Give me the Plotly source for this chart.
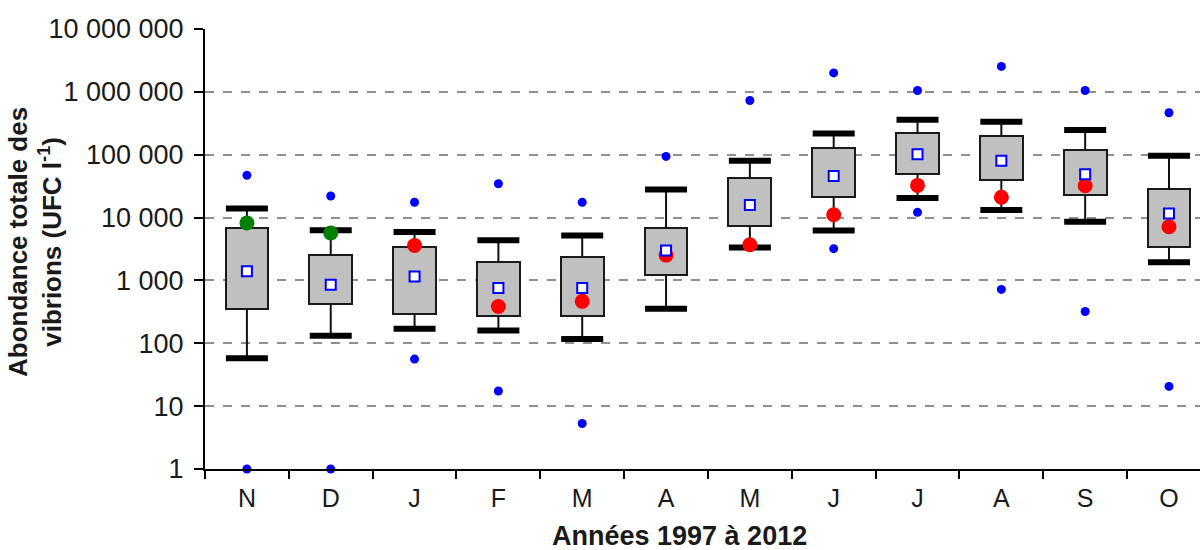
import plotly.graph_objects as go

months = ["N", "D", "J", "F", "M", "A", "M", "J", "J", "A", "S", "O"]
max_vals = [47000, 22000, 17500, 34500, 17500, 94000, 730000, 2000000, 1050000, 2540000, 1050000, 465000]
upper_whisker = [14000, 6300, 5900, 4350, 5200, 28000, 80000, 218000, 360000, 335000, 247000, 96000]
q3_vals = [6800, 2500, 3450, 1960, 2400, 6800, 42000, 129000, 225000, 198000, 119000, 28500]
mean_vals = [1400, 850, 1160, 760, 760, 3000, 15800, 46000, 102000, 80000, 48700, 11600]
q1_vals = [350, 420, 292, 270, 270, 1200, 7250, 21000, 50000, 39000, 22500, 3440]
lower_whisker = [58, 132, 170, 160, 117, 355, 3350, 6250, 20500, 13200, 8600, 1940]
min_vals = [1, 1, 56, 17.4, 5.3, None, None, 3200, 12100, 720, 320, 20.6]
current_vals = [8200, 5700, 3600, 385, 465, 2530, 3700, 11100, 32500, 21000, 32000, 7150]
current_colors = ["#008000", "#008000"] + ["#ff0000"] * 10

y_tickvals = [1, 10, 100, 1000, 10000, 100000, 1000000, 10000000]
y_ticktext = ["1", "10", "100", "1 000", "10 000", "100 000", "1 000 000", "10 000 000"]

FONT = "Liberation Sans, Arial, sans-serif"
xs = list(range(len(months)))

fig = go.Figure()

# boxes (q1 -> q3)
fig.add_trace(go.Bar(
    x=xs, y=[q3 - q1 for q1, q3 in zip(q1_vals, q3_vals)], base=q1_vals,
    width=0.51, marker=dict(color="#c0c0c0", line=dict(color="#1a1a1a", width=2)),
    showlegend=False, hoverinfo="skip"))

# whisker lines
wx, wy = [], []
for i in xs:
    wx += [i, i, None, i, i, None]
    wy += [lower_whisker[i], q1_vals[i], None, q3_vals[i], upper_whisker[i], None]
fig.add_trace(go.Scatter(x=wx, y=wy, mode="lines", line=dict(color="#111111", width=2),
                         showlegend=False, hoverinfo="skip", cliponaxis=False))

# whisker caps
for vals in (upper_whisker, lower_whisker):
    fig.add_trace(go.Scatter(
        x=xs, y=vals, mode="markers",
        marker=dict(symbol="line-ew-open", size=30, color="#000000",
                    line=dict(color="#000000", width=6)),
        showlegend=False, hoverinfo="skip", cliponaxis=False))

# current year values
fig.add_trace(go.Scatter(
    x=xs, y=current_vals, mode="markers",
    marker=dict(symbol="circle", size=15, color=current_colors, line=dict(width=0)),
    showlegend=False, cliponaxis=False))

# means
fig.add_trace(go.Scatter(
    x=xs, y=mean_vals, mode="markers",
    marker=dict(symbol="square", size=10, color="#ffffff", line=dict(color="#0000ff", width=2)),
    showlegend=False, cliponaxis=False))

# min / max
fig.add_trace(go.Scatter(
    x=xs + xs, y=max_vals + min_vals, mode="markers",
    marker=dict(symbol="circle", size=9, color="#0000ff", line=dict(width=0)),
    showlegend=False, cliponaxis=False))

fig.update_layout(
    width=1200, height=550,
    margin=dict(l=205, r=0, t=29, b=81),
    paper_bgcolor="white", plot_bgcolor="white",
    font=dict(family=FONT, color="#1a1a1a"),
    bargap=0,
    xaxis=dict(
        range=[-0.5, 11.37], tickmode="array", tickvals=xs, ticktext=months,
        ticks="outside", ticklen=6, tickcolor="rgba(0,0,0,0)",
        tickfont=dict(size=25, family=FONT, color="#1a1a1a"),
        showline=True, linecolor="#000000", linewidth=2, showgrid=False, zeroline=False,
        minor=dict(tickmode="array", tickvals=[i + 0.5 for i in range(-1, 12)],
                   ticks="outside", ticklen=8, tickwidth=2, tickcolor="#000000", showgrid=False),
    ),
    yaxis=dict(
        type="log", range=[0, 7], tickmode="array", tickvals=y_tickvals, ticktext=y_ticktext,
        ticks="outside", ticklen=9, tickwidth=2, tickcolor="#000000", ticklabelstandoff=5,
        tickfont=dict(size=27, family=FONT, color="#1a1a1a"),
        showline=True, linecolor="#000000", linewidth=2,
        showgrid=True, gridcolor="#909090", gridwidth=2, griddash="dash", zeroline=False,
    ),
    annotations=[
        dict(text="<b>Années 1997 à 2012</b>", xref="paper", yref="paper",
             x=(679 - 205) / 995, y=0, xanchor="center", yanchor="bottom", yshift=-84,
             showarrow=False, font=dict(size=27, family=FONT, color="#1a1a1a")),
        dict(text="<b>Abondance totale des<br>vibrions (UFC l<sup>-1</sup>)</b>", xref="paper", yref="paper",
             x=0, y=(469 - 242) / 440, xanchor="center", yanchor="middle", xshift=-170,
             textangle=-90, showarrow=False, font=dict(size=26, family=FONT, color="#1a1a1a")),
    ],
)

fig.write_html("out.html")
